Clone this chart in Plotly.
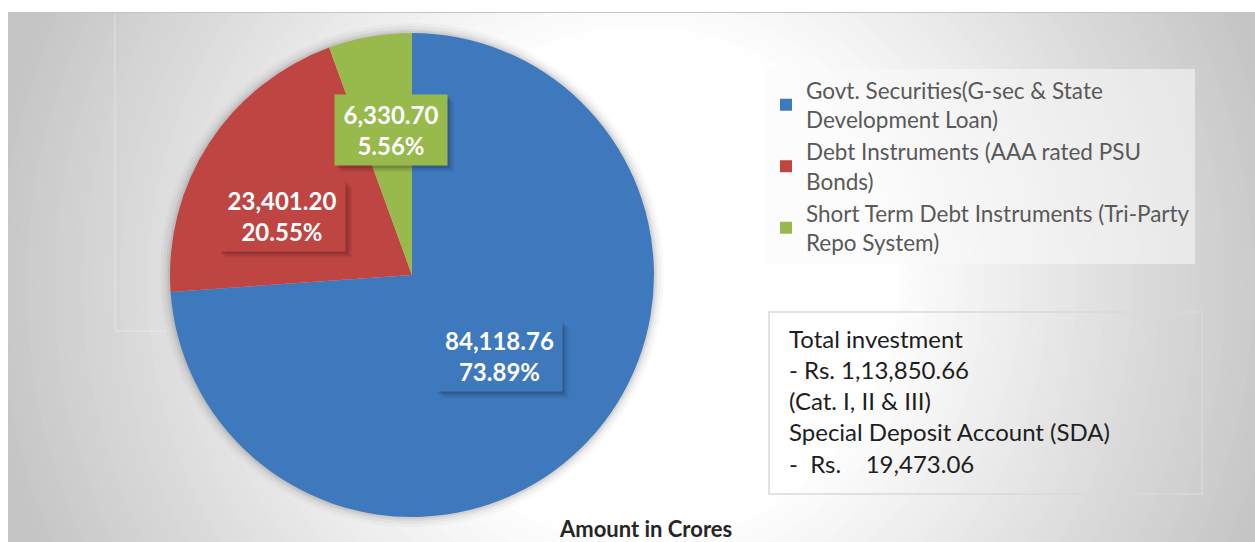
import plotly.graph_objects as go

# ---------------- data ----------------
categories = [
    "Govt. Securities(G-sec & State<br>Development Loan)",
    "Debt Instruments (AAA rated PSU<br>Bonds)",
    "Short Term Debt Instruments (Tri-Party<br>Repo System)",
]
amounts = [84118.76, 23401.20, 6330.70]
sda_amount = 19473.06
title_text = "Amount in Crores"
colors = ["#3F79BD", "#BE4542", "#98B94C"]

# ---------------- helpers ----------------
W, H = 1255, 542
def px(x): return x / W
def py(y): return 1 - y / H

def indian(v):
    s = f"{v:.2f}"
    ip, dp = s.split(".")
    if len(ip) > 3:
        head, tail = ip[:-3], ip[-3:]
        groups = []
        while len(head) > 2:
            groups.insert(0, head[-2:])
            head = head[:-2]
        if head:
            groups.insert(0, head)
        ip = ",".join(groups + [tail])
    return ip + "." + dp

total = sum(amounts)
pcts = [a / total * 100 for a in amounts]

# pie geometry (pixels)
cx, cy, R = 412, 275, 242

shapes = []
shapes.append(dict(type="rect", xref="paper", yref="paper", x0=px(8), x1=1, y0=0, y1=py(12),
                   fillcolor="#c5c5c5", line=dict(width=0), layer="below"))
# radial gradient approximated by concentric circles
gcx, gcy = 640, 285
r_out, r_in = 660, 250
n = 44
c_out, c_in = 197, 255
for i in range(n + 1):
    t = i / n
    r = r_out - (r_out - r_in) * t
    c = int(round(c_out + (c_in - c_out) * t))
    shapes.append(dict(type="circle", xref="paper", yref="paper",
                       x0=px(gcx - r), x1=px(gcx + r), y0=py(gcy + r), y1=py(gcy - r),
                       fillcolor=f"rgb({c},{c},{c})", line=dict(width=0), layer="below"))
# outside of chart area (white page)
shapes.append(dict(type="rect", xref="paper", yref="paper", x0=-0.05, x1=1.05, y0=py(12), y1=1.05,
                   fillcolor="white", line=dict(width=0), layer="below"))
shapes.append(dict(type="rect", xref="paper", yref="paper", x0=-0.05, x1=px(8), y0=-0.05, y1=1.05,
                   fillcolor="white", line=dict(width=0), layer="below"))
shapes.append(dict(type="line", xref="paper", yref="paper", x0=px(8), x1=1, y0=py(12.5), y1=py(12.5),
                   line=dict(color="#c4c4c4", width=1), layer="below"))
# faint plot-area outline
shapes.append(dict(type="line", xref="paper", yref="paper", x0=px(115), x1=px(115), y0=py(331), y1=py(13),
                   line=dict(color="rgba(255,255,255,0.35)", width=1), layer="below"))
shapes.append(dict(type="line", xref="paper", yref="paper", x0=px(115), x1=px(170), y0=py(331), y1=py(331),
                   line=dict(color="rgba(255,255,255,0.35)", width=1), layer="below"))
# soft pie shadow
for k, a in [(10, 0.025), (7, 0.035), (4, 0.05), (2, 0.06)]:
    shapes.append(dict(type="circle", xref="paper", yref="paper",
                       x0=px(cx - R - k), x1=px(cx + R + k), y0=py(cy + R + k), y1=py(cy - R - k),
                       fillcolor=f"rgba(0,0,0,{a})", line=dict(width=0), layer="below"))

# text box border
shapes.append(dict(type="rect", xref="paper", yref="paper", x0=px(769), x1=px(1202), y0=py(494), y1=py(312),
                   line=dict(color="#d9d9d9", width=1.5), fillcolor="rgba(0,0,0,0)", layer="below"))

fig = go.Figure()
fig.add_trace(go.Pie(
    labels=categories, values=amounts, sort=False, direction="clockwise", rotation=0,
    marker=dict(colors=colors, line=dict(width=0)),
    textinfo="none", hoverinfo="label+value+percent",
    domain=dict(x=[px(cx - R), px(cx + R)], y=[py(cy + R), py(cy - R)]),
    showlegend=True,
))

annotations = []
# data labels (boxed) with soft drop shadows
label_centres = [(499, 356), (282, 216), (391, 130)]   # pixel centres of label boxes
label_w = [117, 118, 104]
label_h = 62
for (lx, ly), a, p, col, w in zip(label_centres, amounts, pcts, colors, label_w):
    bw, bh = w + 8, label_h + 8
    for off, al in [(7, 0.06), (5, 0.08), (3, 0.12)]:
        shapes.append(dict(type="rect", xref="paper", yref="paper",
                           x0=px(lx - bw / 2 + off - 1), x1=px(lx + bw / 2 + off),
                           y0=py(ly + bh / 2 + off), y1=py(ly - bh / 2 + off - 1),
                           fillcolor=f"rgba(0,0,0,{al})", line=dict(width=0), layer="above"))
    annotations.append(dict(
        xref="paper", yref="paper", x=px(lx), y=py(ly), xanchor="center", yanchor="middle",
        text=f"<b>{a:,.2f}<br>{p:.2f}%</b>", showarrow=False,
        font=dict(family="Lato", size=24, color="white"),
        bgcolor=col, width=w, height=label_h, borderpad=4, align="center",
    ))

# info text box (one annotation per line)
info_lines = [
    "Total investment",
    f"- Rs. {indian(total)}",
    "(Cat. I, II &amp; III)",
    "Special Deposit Account (SDA)",
    "-\u00a0 Rs.\u00a0\u00a0\u00a0 " + f"{sda_amount:,.2f}",
]
for i, t in enumerate(info_lines):
    annotations.append(dict(
        xref="paper", yref="paper", x=px(787), y=py(338 + 31.3 * i), xanchor="left", yanchor="middle",
        text=t, showarrow=False, font=dict(family="Lato", size=24, color="#1e1e1e"),
    ))

annotations.append(dict(
    xref="paper", yref="paper", x=px(645), y=py(528), xanchor="center", yanchor="middle",
    text=f"<b>{title_text}</b>", showarrow=False, font=dict(family="Lato", size=22, color="#262626"),
))

fig.update_layout(
    width=W, height=H, margin=dict(l=0, r=0, t=0, b=0),
    paper_bgcolor="white", plot_bgcolor="rgba(0,0,0,0)",
    shapes=shapes, annotations=annotations,
    legend=dict(x=px(766), y=py(69), xanchor="left", yanchor="top",
                bgcolor="rgba(250,250,250,0.55)", borderwidth=0,
                font=dict(family="Lato", size=22.5, color="#595959"),
                itemclick=False, itemdoubleclick=False),
)

fig.write_html("out.html", config={"displayModeBar": False},
               post_script="document.body.style.margin='0';document.body.style.overflow='hidden';")
